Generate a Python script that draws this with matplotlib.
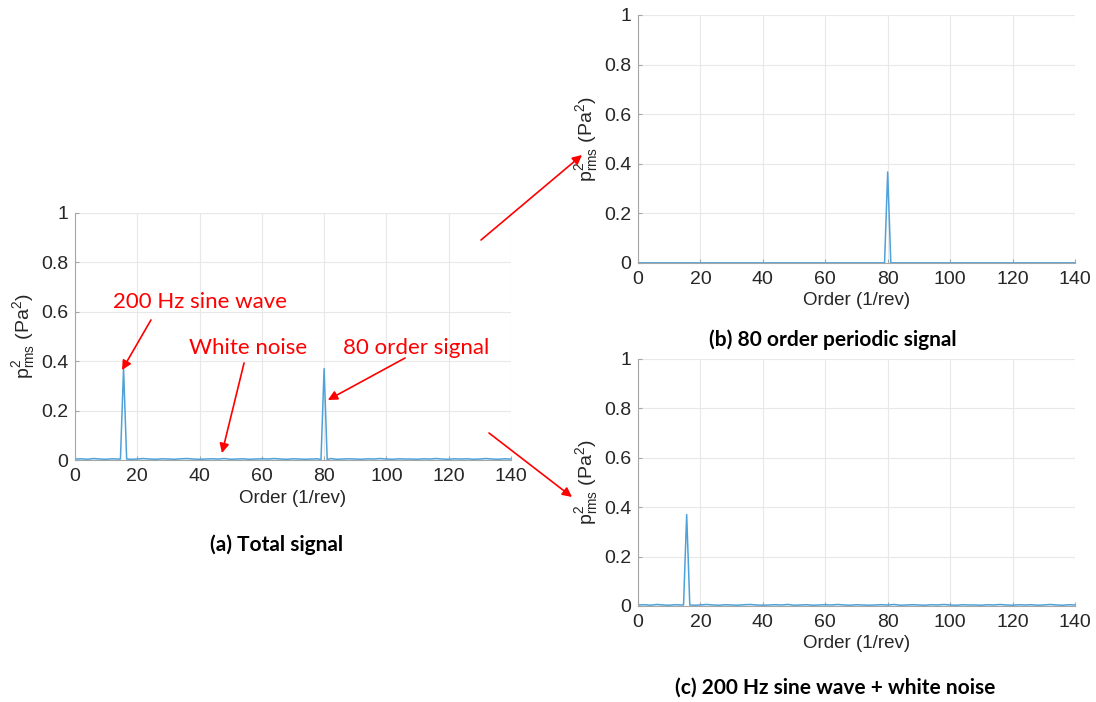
import numpy as np
import matplotlib
matplotlib.use('Agg')
import matplotlib.pyplot as plt
from matplotlib.ticker import FuncFormatter
from matplotlib.patches import FancyArrowPatch

plt.rcParams['font.family'] = ['Liberation Sans', 'DejaVu Sans']
plt.rcParams['mathtext.fontset'] = 'custom'
plt.rcParams['mathtext.rm'] = 'Liberation Sans'
plt.rcParams['mathtext.it'] = 'Liberation Sans'

# noise floor, one reading every 2 orders (0..140)
noise_orders = list(range(0, 141, 2))
noise_vals = [0.004, 0.005, 0.003, 0.006, 0.004, 0.003, 0.005, 0.004, 0.005, 0.003,
              0.004, 0.006, 0.004, 0.003, 0.005, 0.004, 0.003, 0.005, 0.006, 0.004,
              0.003, 0.004, 0.005, 0.004, 0.006, 0.003, 0.004, 0.005, 0.003, 0.004,
              0.005, 0.004, 0.006, 0.004, 0.003, 0.005, 0.004, 0.003, 0.004, 0.005,
              0.004, 0.006, 0.003, 0.004, 0.005, 0.004, 0.003, 0.005, 0.004, 0.006,
              0.004, 0.003, 0.005, 0.004, 0.004, 0.003, 0.005, 0.004, 0.006, 0.004,
              0.003, 0.005, 0.004, 0.005, 0.003, 0.004, 0.006, 0.004, 0.003, 0.005,
              0.004]

# 200 Hz sine peak (order ~15.6) and 80 order peak
sine_orders = [14.6, 15.6, 16.6]
sine_vals = [0.004, 0.37, 0.004]
p80_orders = [79.0, 80.0, 81.0]
p80_vals = [0.001, 0.37, 0.001]

# periodic-only signal has a flat zero floor
flat_orders = [0, 79.0, 80.0, 81.0, 140]
flat_vals = [0.0005, 0.0005, 0.367, 0.0005, 0.0005]

x_ticks = [0, 20, 40, 60, 80, 100, 120, 140]
y_ticks = [0, 0.2, 0.4, 0.6, 0.8, 1]

LINE = '#4ea2d9'
TXT = '#262626'


def merge(o1, v1, extra):
    pts = dict(zip(o1, v1))
    for o, v in extra:
        for oo, vv in zip(o, v):
            pts[oo] = vv
        # drop floor points that fall inside the peak
        for k in list(pts.keys()):
            if o[0] < k < o[-1] and k not in o:
                del pts[k]
    ks = sorted(pts)
    return ks, [pts[k] for k in ks]


def style(ax):
    ax.set_xlim(0, 140)
    ax.set_ylim(0, 1)
    ax.set_xticks(x_ticks)
    ax.set_yticks(y_ticks)
    ax.yaxis.set_major_formatter(FuncFormatter(lambda v, p: '%g' % v))
    ax.grid(True, color='#e8e8e8', lw=0.8)
    ax.set_axisbelow(True)
    for s in ['top', 'right']:
        ax.spines[s].set_visible(False)
    for s in ['left', 'bottom']:
        ax.spines[s].set_color('#a6a6a6')
        ax.spines[s].set_linewidth(0.8)
    ax.tick_params(direction='in', length=3, color='#a6a6a6', labelsize=14,
                   labelcolor=TXT)
    ax.tick_params(axis='x', pad=6)
    ax.tick_params(axis='y', pad=5)
    ax.set_xlabel('Order (1/rev)', fontsize=13.5, color=TXT, labelpad=3)
    ax.set_ylabel(r'p$^2_{\mathrm{rms}}$ (Pa$^2$)', fontsize=14, color=TXT, labelpad=3)


fig = plt.figure(figsize=(10.96, 7.02), dpi=100)
ax_a = fig.add_axes([0.0684, 0.3447, 0.3978, 0.3519])
ax_b = fig.add_axes([0.5821, 0.6254, 0.3987, 0.3533])
ax_c = fig.add_axes([0.5821, 0.1368, 0.3987, 0.3519])

xa, ya = merge(noise_orders, noise_vals, [(sine_orders, sine_vals), (p80_orders, p80_vals)])
xc, yc = merge(noise_orders, noise_vals, [(sine_orders, sine_vals)])

ax_a.plot(xa, ya, color=LINE, lw=1.1)
ax_b.plot(flat_orders, flat_vals, color=LINE, lw=1.1)
ax_c.plot(xc, yc, color=LINE, lw=1.1)
for ax in (ax_a, ax_b, ax_c):
    style(ax)

# red annotations on total signal
red = 'red'
aprops = dict(arrowstyle='-|>', color=red, lw=1.2, mutation_scale=14,
              shrinkA=0, shrinkB=0)
afont = dict(fontsize=16, color=red, family=['Lato', 'DejaVu Sans'],
             ha='center', va='center')
ax_a.annotate('', xy=(15.1, 0.364), xytext=(24.4, 0.567), arrowprops=aprops)
ax_a.text(40.1, 0.64, '200 Hz sine wave', **afont)
ax_a.annotate('', xy=(47.2, 0.028), xytext=(54.3, 0.393), arrowprops=aprops)
ax_a.text(55.5, 0.453, 'White noise', **afont)
ax_a.annotate('', xy=(81.2, 0.243), xytext=(106.0, 0.413), arrowprops=aprops)
ax_a.text(109.5, 0.453, '80 order signal', **afont)

# arrows between panels (figure pixels, origin bottom-left)
H = 702
fig.add_artist(FancyArrowPatch((481, H - 240), (582, H - 155), transform=None, **aprops))
fig.add_artist(FancyArrowPatch((489, H - 433), (572, H - 497), transform=None, **aprops))

# captions
cfont = dict(fontsize=15, fontweight='bold', color='black',
             family=['Lato', 'DejaVu Sans'], ha='center', va='center')
fig.text(277 / 1096, 1 - 545 / H, '(a) Total signal', **cfont)
fig.text(833 / 1096, 1 - 340 / H, '(b) 80 order periodic signal', **cfont)
fig.text(835 / 1096, 1 - 688 / H, '(c) 200 Hz sine wave + white noise', **cfont)

fig.savefig('out.png', dpi=100, facecolor='white')
